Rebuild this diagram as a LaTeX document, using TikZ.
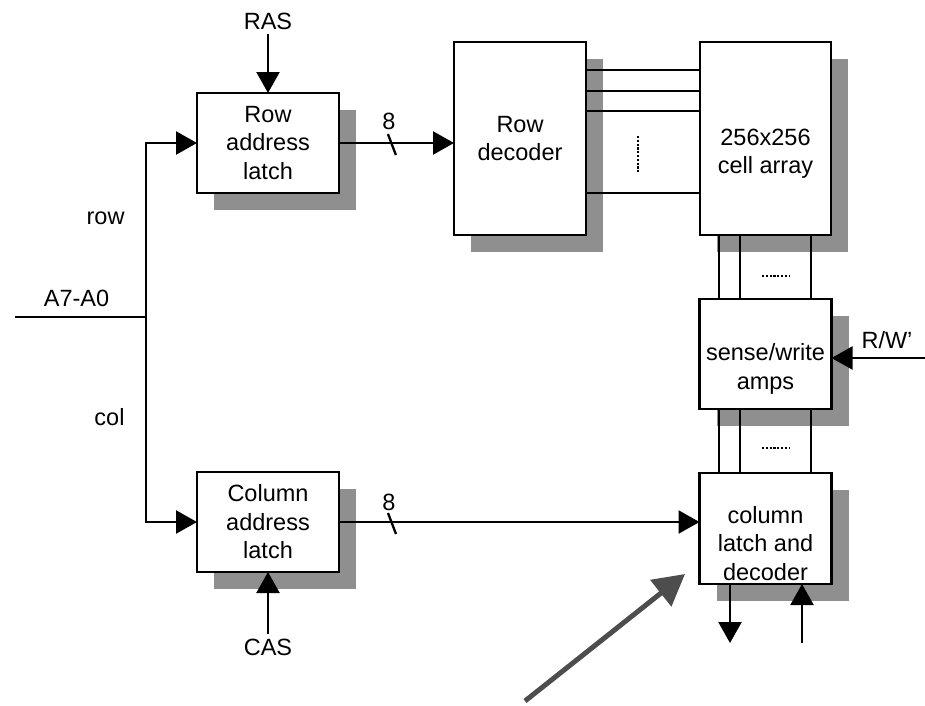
\documentclass[tikz,border=0pt]{standalone}
\usepackage{fontspec}
\setmainfont{Liberation Sans}
\usetikzlibrary{positioning, arrows.meta, shadows}
\definecolor{shade}{HTML}{8F8F8F}
\definecolor{pointer}{HTML}{4D4D4D}

\begin{document}
\begin{tikzpicture}[
    x=1pt, y=-1pt,
    >={Triangle[length=21pt,width=23pt]},
    line width=2.3pt,
    font=\fontsize{23.5}{28.5}\selectfont,
    block/.style={
        draw,
        fill=white,
        align=center,
        inner sep=0pt,
        outer sep=0pt,
        general shadow={fill=shade, shadow xshift=17pt, shadow yshift=-17pt}
    },
    latch/.style={block, minimum width=142pt, minimum height=100pt},
    tall/.style={block, minimum width=132pt, minimum height=193pt},
    lowtext/.style={label={[align=center, yshift=-15pt]center:#1}},
    dots/.style={line width=2.8pt, dash pattern=on 2.2pt off 1.6pt},
    bigarrow/.style={draw=pointer, line width=5pt, -{Triangle[length=31pt,width=33pt]}}
]
\useasboundingbox (0,0) rectangle (925,705);

% address latches
\node[latch] (rowlatch) at (268,143) {Row\\address\\latch};
\node[latch, below=279pt of rowlatch] (collatch) {Column\\address\\latch};

% decoder and memory array
\node[tall] (rowdec) at (520,138.5) {Row\\decoder};
\node[tall, right=114pt of rowdec, minimum width=131pt, lowtext={256x256\\cell array}] (cells) {};
\node[block, minimum width=132pt, minimum height=110pt, below=64pt of cells, lowtext={sense/write\\amps}] (amps) {};
\node[block, minimum width=132pt, minimum height=111pt, below=64pt of amps, lowtext={column\\latch and\\decoder}] (coldec) {};

% strobes
\node (ras) at (268,21) {RAS};
\node (cas) at (268,647) {CAS};
\draw[->] (ras) -- (rowlatch);
\draw[->] (cas) -- (collatch);

% address bus
\coordinate (ain) at (15,317);
\coordinate (bus) at (146,317);
\draw (ain) -- node[pos=0.47, above=6pt] (addr) {A7-A0} (bus);
\draw[->] (bus) |- (rowlatch.west);
\draw[->] (bus) |- (collatch.west);
\node[anchor=east] (rowlbl) at (129,218) {row};
\node[anchor=east] (collbl) at (129,417) {col};

% 8-bit buses
\draw[->] (rowlatch.east) -- coordinate[pos=0.46] (rowbus) (rowlatch.east -| rowdec.west);
\draw ([shift={(-4,-9)}]rowbus) -- ([shift={(4,12)}]rowbus);
\node (rowwidth) at ([shift={(-3,-22)}]rowbus) {8};
\draw[->] (collatch.east) -- coordinate[pos=0.147] (colbus) (collatch.east -| coldec.west);
\draw ([shift={(-4,-9)}]colbus) -- ([shift={(4,12)}]colbus);
\node (colwidth) at ([shift={(-3,-20)}]colbus) {8};

% word lines
\foreach \y in {70,91,111,193}
  \draw (rowdec.east |- 0,\y) -- (cells.west |- 0,\y);
\draw[dots] (638,136) -- (638,173);

% bit lines
\foreach \x in {719,740,811} {
  \draw (cells.south -| \x,0) -- (amps.north -| \x,0);
  \draw (amps.south -| \x,0) -- (coldec.north -| \x,0);
}
\draw[dots] (762,276) -- (790,276);
\draw[dots] (762,448) -- (790,448);

% read/write control
\coordinate (rwin) at (925,358);
\draw[->] (rwin) -- (rwin -| amps.east);
\node (rw) at (887,340) {R/W’};

% data in/out
\coordinate (dout) at (730,643);
\coordinate (din) at (802,643);
\draw[->] (coldec.south -| dout) -- (dout);
\draw[->] (din) -- (coldec.south -| din);

% pointer
\coordinate (ptrtail) at (525,701);
\coordinate (ptrtip) at (685,574);
\draw[bigarrow] (ptrtail) -- (ptrtip);

\end{tikzpicture}
\end{document}
